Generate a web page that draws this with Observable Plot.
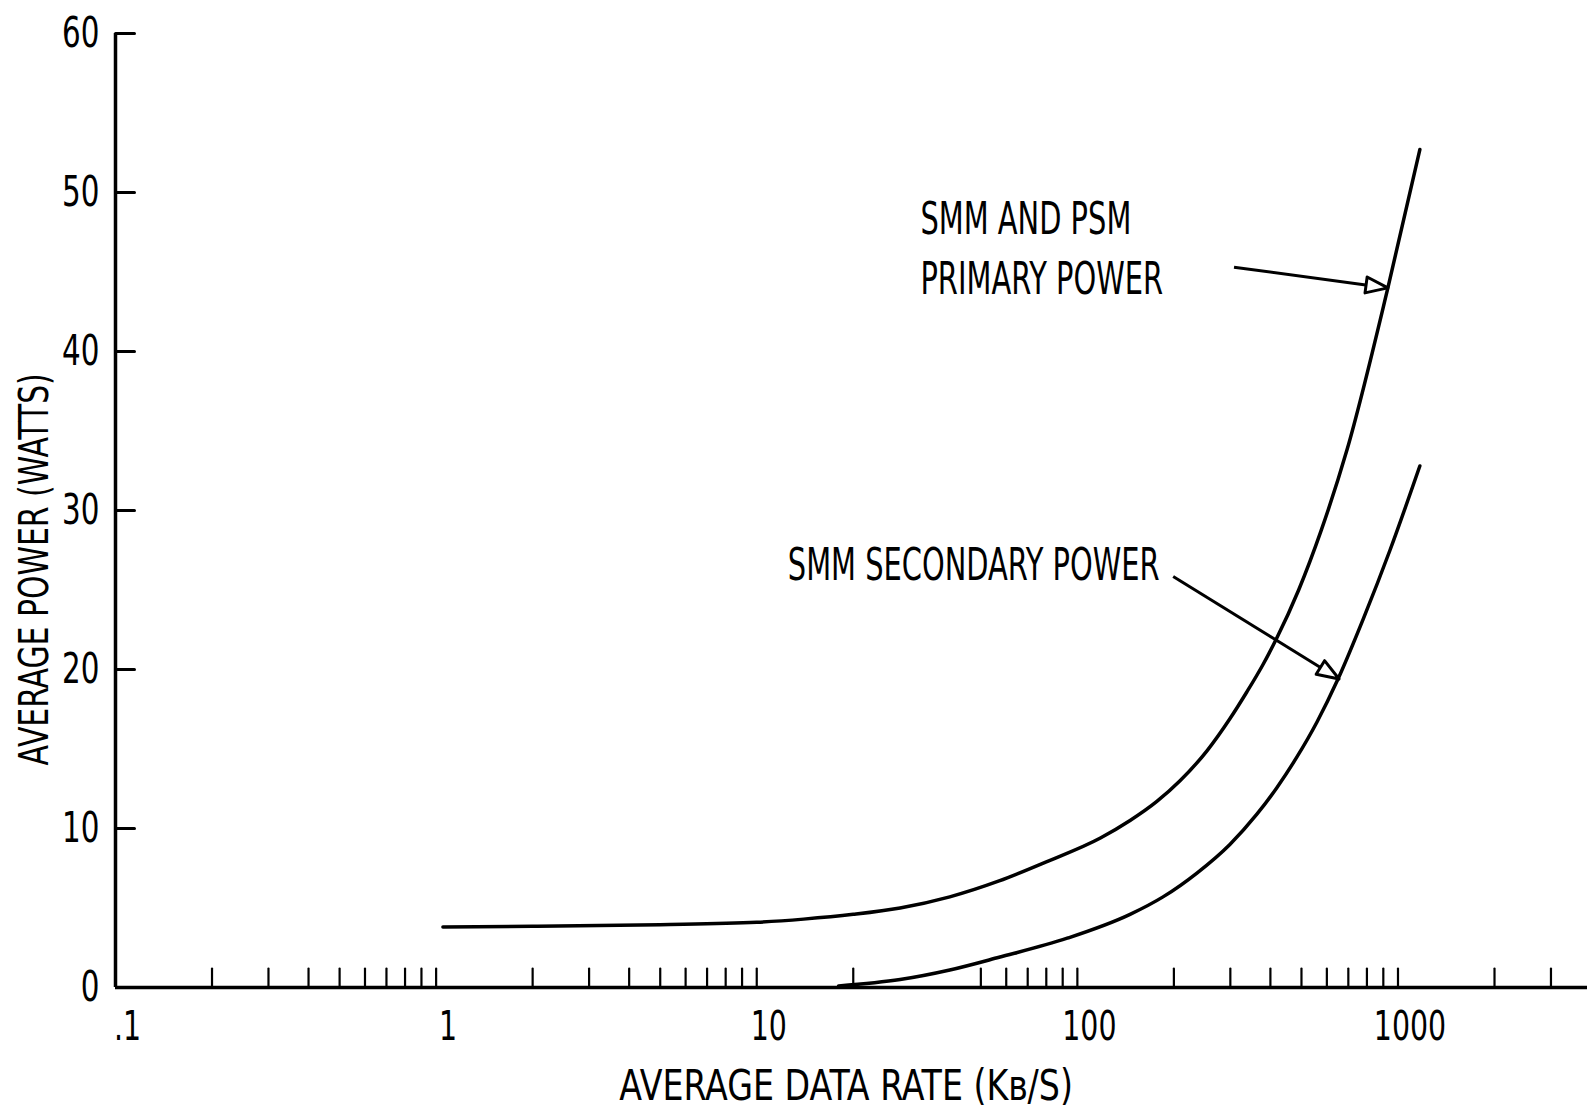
<!DOCTYPE html>
<html><head><meta charset="utf-8">
<script src="https://cdn.jsdelivr.net/npm/d3@7"></script>
<script src="https://cdn.jsdelivr.net/npm/@observablehq/plot@0.6"></script>
<style>body{margin:0;background:#fff} svg{display:block}</style>
</head><body><div id="chart"></div>
<script>
// Data
const primaryRate  = [1.05, 2, 5, 10, 14, 20, 28, 40, 57, 80, 118, 146, 177, 209, 254, 299, 338, 379, 417, 490, 575, 693, 930, 1170];
const primaryPower = [3.8, 3.85, 3.95, 4.1, 4.3, 4.6, 5.0, 5.7, 6.7, 7.9, 9.4, 10.5, 11.7, 13.0, 14.9, 16.9, 18.6, 20.3, 21.9, 25.0, 28.7, 33.8, 44.0, 52.7];
const secondaryRate  = [18, 28, 40, 57, 93, 146, 185, 236, 299, 363, 420, 484, 559, 650, 780, 944, 1170];
const secondaryPower = [0.1, 0.5, 1.1, 1.9, 3.1, 4.6, 5.7, 7.2, 9.0, 10.9, 12.6, 14.5, 16.7, 19.4, 23.2, 27.5, 32.8];

const yTickValues = [10, 20, 30, 40, 50, 60];
const yTickLabelValues = [0, 10, 20, 30, 40, 50, 60];
const xTickLabelValues = [0.1, 1, 10, 100, 1000];
const xTickLabels = [".1", "1", "10", "100", "1000"];
const xTickValues = [0.2,0.3,0.4,0.5,0.6,0.7,0.8,0.9,1, 2,3,4,5,6,7,8,9,10, 20,50,60,70,80,90,100, 200,300,400,500,600,700,800,900,1000, 2000,3000];

const annotationText = ["SMM AND PSM", "PRIMARY POWER", "SMM SECONDARY POWER"];
const annotationRate = [32.4, 32.4, 12.5];
const annotationPower = [48.3, 44.5, 26.5];

const arrowFromRate = [308, 199];
const arrowFromPower = [45.3, 25.85];
const arrowToRate = [930, 655];
const arrowToPower = [44.0, 19.4];

const xTitle = "AVERAGE DATA RATE (Kʙ/S)";
const yTitle = "AVERAGE POWER (WATTS)";

// Layout
const W = 1589, H = 1113;
const mL = 115, mR = 2, mT = 33, mB = 126;
const xOpts = {type: "log", domain: [0.1, 3900], range: [mL, W - mR]};
const yOpts = {type: "linear", domain: [0, 60], range: [H - mB, mT]};
const sx = Plot.scale({x: xOpts});
const sy = Plot.scale({y: yOpts});

const primary = primaryRate.map((r, i) => ({r, p: primaryPower[i]}));
const secondary = secondaryRate.map((r, i) => ({r, p: secondaryPower[i]}));
const arrows = arrowFromRate.map((r, i) => {
  const x1 = sx.apply(r), y1 = sy.apply(arrowFromPower[i]);
  const x2 = sx.apply(arrowToRate[i]), y2 = sy.apply(arrowToPower[i]);
  const ang = Math.atan2(x2 - x1, -(y2 - y1)) * 180 / Math.PI;
  return {r1: r, p1: arrowFromPower[i], r2: arrowToRate[i], p2: arrowToPower[i], ang};
});
const annotations = annotationText.map((t, i) => ({t, r: annotationRate[i], p: annotationPower[i]}));

const lineShape = {draw(ctx, l) { ctx.moveTo(0, 0); ctx.lineTo(0, -l); }};
const headShape = {draw(ctx, l) { ctx.moveTo(0, -l); ctx.lineTo(8, 0); ctx.lineTo(-8, 0); ctx.closePath(); }};

const FONT = "'DejaVu Sans Condensed', 'DejaVu Sans', sans-serif";

const chart = Plot.plot({
  width: W, height: H,
  marginLeft: mL, marginRight: mR, marginTop: mT, marginBottom: mB,
  x: {...xOpts, axis: null},
  y: {...yOpts, axis: null},
  style: {fontFamily: FONT, background: "#fff", color: "#000"},
  marks: [
    Plot.ruleY([0], {stroke: "#000", strokeWidth: 3.5}),
    Plot.ruleX([0.1], {y1: 0, y2: 60, stroke: "#000", strokeWidth: 3.5}),
    Plot.vector(xTickValues, {x: d => d, y: 0, length: 19, rotate: 0, anchor: "start", shape: lineShape, stroke: "#000", strokeWidth: 2.2}),
    Plot.vector(yTickValues, {x: 0.1, y: d => d, length: 19, rotate: 90, anchor: "start", shape: lineShape, stroke: "#000", strokeWidth: 3}),
    Plot.text(xTickLabelValues, {x: d => d, y: 0, text: (d, i) => xTickLabels[i], dy: 40, dx: 12, fontSize: 40, fill: "#000"}),
    Plot.text(yTickLabelValues, {x: 0.1, y: d => d, text: d => String(d), dx: -16, textAnchor: "end", fontSize: 43, fill: "#000"}),
    Plot.line(primary, {x: "r", y: "p", curve: "monotone-x", stroke: "#000", strokeWidth: 3.5}),
    Plot.line(secondary, {x: "r", y: "p", curve: "monotone-x", stroke: "#000", strokeWidth: 3.5}),
    Plot.link(arrows, {x1: "r1", y1: "p1", x2: "r2", y2: "p2", stroke: "#000", strokeWidth: 3}),
    Plot.vector(arrows, {x: "r2", y: "p2", rotate: "ang", length: 22, anchor: "end", shape: headShape, stroke: "#000", strokeWidth: 3, fill: "#fff"}),
    Plot.text(annotations, {x: "r", y: "p", text: "t", textAnchor: "start", fontSize: 44, fill: "#000"}),
    Plot.text([xTitle], {x: 19, y: 0, text: d => d, dy: 99, fontSize: 43, fill: "#000"}),
    Plot.text([yTitle], {x: 0.1, y: 26.3, text: d => d, dx: -80, rotate: -90, fontSize: 40, fill: "#000"})
  ]
});

// Condense the lettering horizontally (narrow typewriter-like face of the original)
const squeeze = [0.79, 0.76, 0.73, 0.86, 0.83];
chart.querySelectorAll('g[aria-label="text"]').forEach((g, gi) => {
  const s = squeeze[gi] ?? 0.8;
  g.querySelectorAll("text").forEach(t => {
    const tr = t.getAttribute("transform");
    if (tr) t.setAttribute("transform", `${tr} scale(${s},1)`);
  });
});
document.getElementById("chart").appendChild(chart);
</script>
</body></html>
